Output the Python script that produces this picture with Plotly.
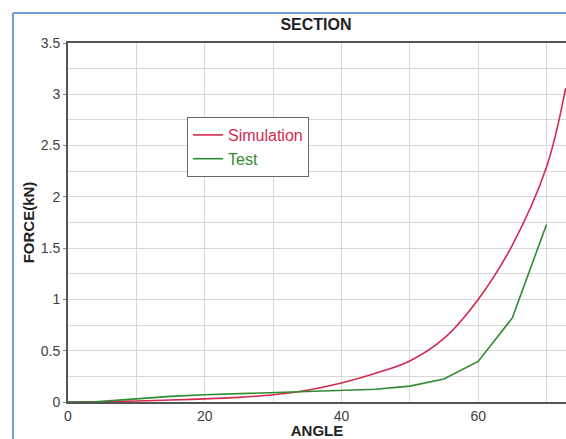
import plotly.graph_objects as go

# Force vs. angle for the section: simulation curve and test measurements
angle_sim = [0, 5, 10, 15, 20, 25, 30, 35, 40, 45, 50, 55, 60, 65, 70, 72.8]
force_sim = [0, 0.003, 0.01, 0.02, 0.03, 0.045, 0.07, 0.115, 0.185, 0.28, 0.40, 0.62, 1.0, 1.53, 2.29, 3.06]

angle_test = [0, 4, 10, 15, 20, 25, 30, 35, 40, 45, 50, 55, 60, 65, 70]
force_test = [0, 0.003, 0.03, 0.055, 0.07, 0.08, 0.09, 0.10, 0.115, 0.125, 0.155, 0.225, 0.395, 0.82, 1.73]

x_ticks = [0, 20, 40, 60]
y_ticks = [0, 0.5, 1, 1.5, 2, 2.5, 3, 3.5]
y_tick_text = ["0", "0.5", "1", "1.5", "2", "2.5", "3", "3.5"]

SIM_COLOR = "#d42a50"
TEST_COLOR = "#2e8b2e"
FONT = "Liberation Sans, Arial, sans-serif"

fig = go.Figure()
fig.add_trace(go.Scatter(
    x=angle_sim, y=force_sim, mode="lines",
    name=f"<span style='color:{SIM_COLOR}'>Simulation</span>",
    line=dict(color=SIM_COLOR, width=1.6, shape="spline", smoothing=1.0),
))
fig.add_trace(go.Scatter(
    x=angle_test, y=force_test, mode="lines",
    name=f"<span style='color:{TEST_COLOR}'>Test</span>",
    line=dict(color=TEST_COLOR, width=1.6),
))

W, H = 566, 439
ML, MT, MB, MR = 68, 43, 37, 0
pw = W - ML - MR
ph = H - MT - MB

# light blue outer frame of the chart window: only its top and left edges are in view
frame_left = (13 - ML) / pw
frame_top = (MT + ph - 13) / ph
frame_bottom = -(H + 20 - (MT + ph)) / ph
for x0, y0, x1, y1 in [(frame_left, frame_top, 1.2, frame_top),
                       (frame_left, frame_bottom, frame_left, frame_top)]:
    fig.add_shape(type="line", xref="paper", yref="paper",
                  x0=x0, y0=y0, x1=x1, y1=y1,
                  line=dict(color="#6f9bd6", width=2), layer="above")

fig.update_layout(
    width=W, height=H,
    margin=dict(l=ML, r=MR, t=MT, b=MB, pad=0),
    paper_bgcolor="white", plot_bgcolor="white",
    font=dict(family=FONT, color="#404040", size=14),
    title=dict(text="<b>SECTION</b>", x=(316 - ML) / pw, xref="paper", xanchor="center",
               y=1 - 24 / H, yanchor="middle",
               font=dict(family=FONT, size=16, color="#222222")),
    showlegend=True,
    legend=dict(
        x=(187 - ML) / pw, y=(MT + ph - 117) / ph, xanchor="left", yanchor="top",
        bgcolor="white", bordercolor="#666666", borderwidth=1,
        font=dict(family=FONT, size=16), itemwidth=30,
        tracegroupgap=0,
    ),
    xaxis=dict(
        range=[0, 72.85], tickvals=x_ticks,
        showgrid=True, gridcolor="#d8d8d8", gridwidth=1,
        minor=dict(dtick=10, tick0=0, showgrid=True, gridcolor="#d8d8d8", gridwidth=1),
        showline=True, linecolor="#555555", linewidth=2, mirror=True,
        ticks="",
        tickfont=dict(family=FONT, size=14, color="#404040"),
        zeroline=False,
        title=dict(text="<b>ANGLE</b>", standoff=6,
                   font=dict(family=FONT, size=15, color="#222222")),
    ),
    yaxis=dict(
        range=[0, 3.5], tickvals=y_ticks, ticktext=y_tick_text,
        showgrid=True, gridcolor="#d8d8d8", gridwidth=1,
        minor=dict(dtick=0.25, tick0=0, showgrid=True, gridcolor="#d8d8d8", gridwidth=1),
        showline=True, linecolor="#555555", linewidth=2,
        ticks="outside", ticklen=3, tickcolor="#888888",
        tickfont=dict(family=FONT, size=14, color="#404040"),
        zeroline=False,
        title=dict(text="<b>FORCE(kN)</b>", standoff=2,
                   font=dict(family=FONT, size=15, color="#222222")),
    ),
)

fig.write_html("out.html", config={"displayModeBar": False})
